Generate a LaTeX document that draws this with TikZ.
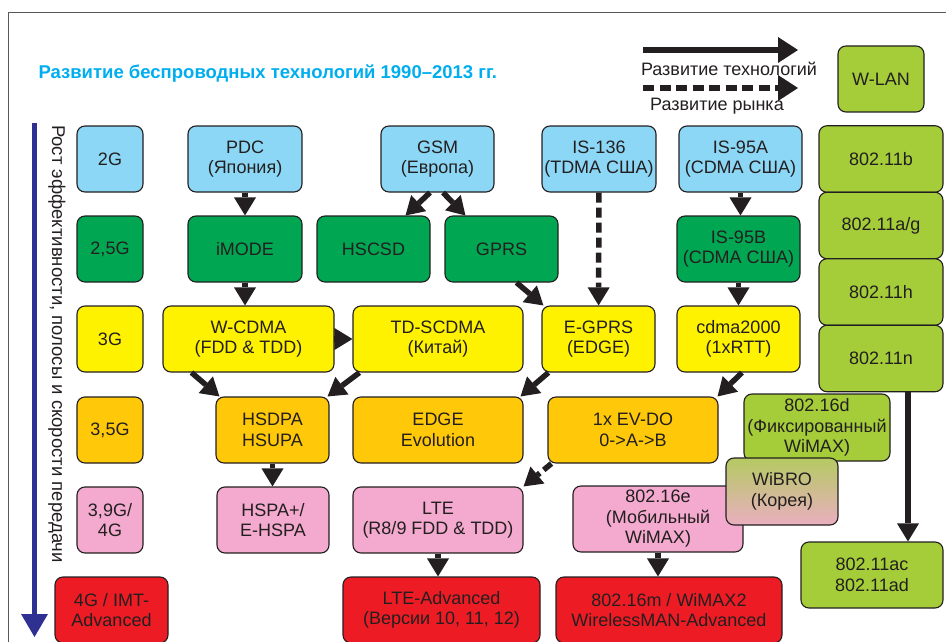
\documentclass[tikz,border=0pt]{standalone}
\usepackage{fontspec}
\setmainfont{Liberation Sans}
\usetikzlibrary{arrows.meta}

\definecolor{ltblue}{RGB}{140,215,245}
\definecolor{dkgreen}{RGB}{0,166,81}
\definecolor{ylw}{RGB}{255,242,0}
\definecolor{orng}{RGB}{255,200,8}
\definecolor{pnk}{RGB}{244,170,206}
\definecolor{rd}{RGB}{237,28,36}
\definecolor{ltgreen}{RGB}{165,205,57}
\definecolor{wibtop}{RGB}{180,202,98}
\definecolor{wibbot}{RGB}{234,174,192}
\definecolor{arrowblk}{RGB}{35,31,32}
\definecolor{titleblue}{RGB}{0,174,239}
\definecolor{axisblue}{RGB}{46,49,146}

\tikzset{
	box/.style={draw=arrowblk, line width=1.1pt, rounded corners=8pt, minimum height=66, inner sep=0pt, align=center, text=arrowblk, font=\fontsize{18}{20.5}\selectfont},
	arr/.style={line width=5.5pt, draw=arrowblk, -{Triangle[length=18pt,width=22pt,line width=0pt]}},
	darr/.style={arr, dash pattern=on 10pt off 5pt},
	legarr/.style={line width=6pt, draw=arrowblk, -{Triangle[length=20pt,width=26pt,line width=0pt]}},
	txt/.style={text=arrowblk, font=\fontsize{18}{20.5}\selectfont}
}

\begin{document}
\begin{tikzpicture}[x=1pt,y=-1pt]
	% Parameters
	\def\gx{110}
	\def\gw{66}
	\def\wx{881}
	\def\ww{124}
	
	\useasboundingbox (0,0) rectangle (946,642);
	
	%frame
	\draw[gray!70!black, line width=1.5pt] (8.5,645) -- (8.5,12.5) -- (950,12.5);
	
	%title and legend
	\node[anchor=west, text=titleblue, font=\bfseries\fontsize{18.5}{20}\selectfont] (title) at (35,74) {Развитие беспроводных технологий 1990–2013 гг.};
	\coordinate (techa) at (643,50);
	\coordinate (techb) at (798,50);
	\draw[legarr] (techa) -- (techb);
	\node[txt] (techtxt) at (729,69) {Развитие технологий};
	\coordinate (marka) at (643,88);
	\coordinate (markb) at (798,88);
	\draw[legarr, dash pattern=on 11pt off 5.5pt] (marka) -- (markb);
	\node[txt] (marktxt) at (717,106) {Развитие рынка};
	
	%axis
	\coordinate (axtop) at (34.5,123);
	\coordinate (axbot) at (34.5,637);
	\draw[axisblue, line width=5pt, -{Triangle[length=23pt,width=27pt,line width=0pt]}] (axtop) -- (axbot);
	\node[txt, rotate=-90, font=\fontsize{18.5}{20}\selectfont] (axtxt) at (57,344) {Рост эффективности, полосы и скорости передачи};
	
	%generations
	\foreach \n/\y/\c/\t in {g2/159/ltblue/2G, g25/249/dkgreen/{2,5G}, g3/339/ylw/3G, g35/430/orng/{3,5G}, g39/520/pnk/{3,9G/\\4G}} {
		\node[box, fill=\c, minimum width=\gw, minimum height=\gw] (\n) at (\gx,\y) {\t};
	}
	\node[box, fill=rd, minimum width=113] (g4) at (111.5,610) {4G / IMT-\\Advanced};
	
	%blocks 2G
	\node[box, fill=ltblue, minimum width=114] (pdc) at (245,159) {PDC\\(Япония)};
	\node[box, fill=ltblue, minimum width=113] (gsm) at (437.5,159) {GSM\\(Европа)};
	\node[box, fill=ltblue, minimum width=114] (is136) at (599,159) {IS-136\\(TDMA США)};
	\node[box, fill=ltblue, minimum width=123] (is95a) at (740.5,159) {IS-95A\\(CDMA США)};
	
	%blocks 2,5G
	\node[box, fill=dkgreen, minimum width=114] (imode) at (245,249) {iMODE};
	\node[box, fill=dkgreen, minimum width=113] (hscsd) at (373.5,249) {HSCSD};
	\node[box, fill=dkgreen, minimum width=113] (gprs) at (501.5,249) {GPRS};
	\node[box, fill=dkgreen, minimum width=123] (is95b) at (738.5,249) {IS-95B\\(CDMA США)};
	
	%blocks 3G
	\node[box, fill=ylw, minimum width=171] (wcdma) at (248.5,339) {W-CDMA\\(FDD \& TDD)};
	\node[box, fill=ylw, minimum width=170] (tdscdma) at (438,339) {TD-SCDMA\\(Китай)};
	\node[box, fill=ylw, minimum width=113] (egprs) at (598.5,339) {E-GPRS\\(EDGE)};
	\node[box, fill=ylw, minimum width=123] (cdma) at (738.5,339) {cdma2000\\(1xRTT)};
	
	%blocks 3,5G
	\node[box, fill=orng, minimum width=113] (hsdpa) at (272.5,430) {HSDPA\\HSUPA};
	\node[box, fill=orng, minimum width=170] (edgeevo) at (438,430) {EDGE\\Evolution};
	\node[box, fill=orng, minimum width=170] (evdo) at (633,430) {1x EV-DO\\0->A->B};
	
	%blocks 3,9G and 4G
	\node[box, fill=pnk, minimum width=112] (hspap) at (273,520) {HSPA+/\\E-HSPA};
	\node[box, fill=pnk, minimum width=170] (lte) at (438,520) {LTE\\(R8/9 FDD \& TDD)};
	\node[box, fill=rd, minimum width=197] (lteadv) at (441.5,610) {LTE-Advanced\\(Версии 10, 11, 12)};
	\node[box, fill=rd, minimum width=226] (wimaxm) at (669,610) {802.16m / WiMAX2\\WirelessMAN-Advanced};
	
	%wimax
	\node[box, fill=ltgreen, minimum width=146, minimum height=67] (wimaxd) at (817,427.5) {802.16d\\(Фиксированный\\WiMAX)};
	\node[box, fill=pnk, minimum width=170] (wimaxe) at (658,519) {802.16e\\(Мобильный\\WiMAX)};
	\node[box, top color=wibtop, bottom color=wibbot, minimum width=112, minimum height=67] (wibro) at (782,491.5) {WiBRO\\(Корея)};
	
	%wlan
	\node[box, fill=ltgreen, minimum width=86] (wlan) at (\wx,79) {W-LAN};
	\foreach \n/\y/\t in {w11b/159/802.11b, w11ag/225.5/802.11a\slash g, w11h/292/802.11h, w11n/358.5/802.11n} {
		\node[box, fill=ltgreen, minimum width=\ww, minimum height=66.5] (\n) at (\wx,\y) {\t};
	}
	\node[box, fill=ltgreen, minimum width=142] (w11ac) at (872,575) {802.11ac\\802.11ad};
	
	%arrows
	\draw[arr] (pdc) -- (imode);
	\draw[arr] (imode.south) -- (imode.south |- wcdma.north);
	\draw[arr] ([xshift=-7.5]gsm.south) -- ([xshift=-25]hscsd.north east);
	\draw[arr] ([xshift=5.5]gsm.south) -- ([xshift=21]gprs.north west);
	\draw[arr] ([xshift=15]gprs.south) -- ([xshift=2]egprs.north west);
	\draw[darr] (is136) -- (egprs);
	\draw[arr] (is95a.south) -- (is95a.south |- is95b.north);
	\draw[arr] (is95b.south) -- (is95b.south |- cdma.north);
	\draw[arr] (wcdma) -- (tdscdma);
	\draw[arr] ([xshift=29]wcdma.south west) -- ([xshift=4]hsdpa.north west);
	\draw[arr] ([xshift=7]tdscdma.south west) -- ([xshift=-2]hsdpa.north east);
	\draw[arr] ([xshift=7]egprs.south west) -- ([xshift=-3]edgeevo.north east);
	\draw[arr] ([xshift=3.5]cdma.south) -- ([xshift=-1]evdo.north east);
	\draw[arr] (hsdpa.south) -- (hsdpa.south |- hspap.north);
	\draw[darr] ([xshift=4]evdo.south west) -- (lte.north east);
	\draw[arr] (lte.south) -- (lte.south |- lteadv.north);
	\draw[arr] (wimaxe.south) -- (wimaxe.south |- wimaxm.north);
	\draw[arr] ([xshift=27]w11n.south) -- ([xshift=27]w11n.south |- w11ac.north);
	
\end{tikzpicture}
\end{document}
